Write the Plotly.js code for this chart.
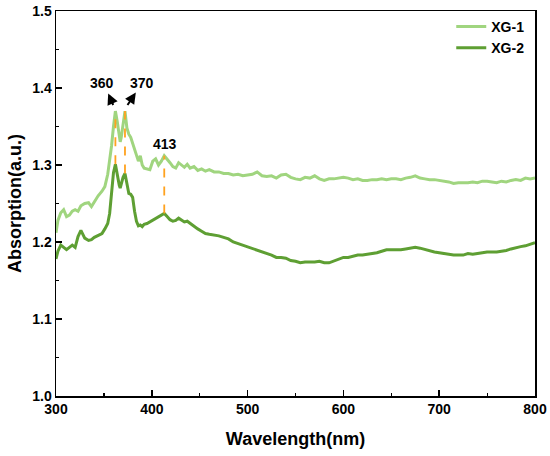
<!DOCTYPE html>
<html>
<head>
<meta charset="utf-8">
<script src="https://cdn.plot.ly/plotly-3.0.1.min.js"></script>
<style>html,body{margin:0;padding:0;background:#fff;}#chart{width:550px;height:456px;}</style>
</head>
<body>
<div id="chart"></div>
<script>
const wavelength = [
  300, 302, 305, 308, 311, 314, 317, 320, 323, 326,
  330, 334, 337, 340, 344, 348, 351, 354, 356, 358,
  360, 362, 364, 366, 367, 368, 370, 372, 374, 376,
  378, 380, 382, 384, 386, 388, 390, 392, 395, 398,
  401, 404, 407, 410, 413, 416, 419, 422, 425, 428,
  431, 434, 437, 440, 444, 448, 452, 456, 460, 465,
  470, 475, 480, 485, 490, 495, 500, 505, 510, 515,
  520, 525, 530, 535, 540, 545, 550, 555, 560, 565,
  570, 575, 580, 585, 590, 595, 600, 605, 610, 615,
  620, 625, 630, 635, 640, 645, 650, 655, 660, 665,
  670, 675, 680, 685, 690, 695, 700, 705, 710, 715,
  720, 725, 730, 735, 740, 745, 750, 755, 760, 765,
  770, 775, 780, 785, 790, 795, 800
];
const xg1 = [
  1.212, 1.228, 1.238, 1.242, 1.233, 1.235, 1.240, 1.242, 1.240, 1.247,
  1.250, 1.251, 1.246, 1.252, 1.260, 1.266, 1.272, 1.288, 1.305, 1.325,
  1.350, 1.370, 1.356, 1.336, 1.330, 1.335, 1.356, 1.370, 1.348, 1.340,
  1.336, 1.328, 1.318, 1.310, 1.305, 1.312, 1.300, 1.296, 1.295, 1.294,
  1.305, 1.308, 1.300, 1.305, 1.312, 1.308, 1.303, 1.298, 1.296, 1.303,
  1.300, 1.297, 1.301, 1.296, 1.298, 1.293, 1.295, 1.292, 1.294, 1.291,
  1.291, 1.289, 1.289, 1.287, 1.288, 1.286, 1.287, 1.288, 1.291, 1.286,
  1.285, 1.286, 1.283, 1.287, 1.288, 1.284, 1.282, 1.281, 1.284, 1.283,
  1.286, 1.282, 1.280, 1.282, 1.282, 1.283, 1.284, 1.283, 1.281, 1.282,
  1.280, 1.280, 1.281, 1.281, 1.282, 1.281, 1.282, 1.282, 1.281, 1.283,
  1.284, 1.286, 1.283, 1.282, 1.281, 1.281, 1.280, 1.279, 1.278, 1.276,
  1.277, 1.277, 1.277, 1.278, 1.277, 1.279, 1.279, 1.278, 1.277, 1.279,
  1.278, 1.280, 1.281, 1.280, 1.283, 1.282, 1.283
];
const xg2 = [
  1.178, 1.188, 1.196, 1.193, 1.190, 1.193, 1.196, 1.193, 1.207, 1.215,
  1.205, 1.202, 1.203, 1.206, 1.208, 1.211, 1.217, 1.224, 1.237, 1.260,
  1.290, 1.301, 1.286, 1.274, 1.270, 1.276, 1.284, 1.289, 1.276, 1.263,
  1.262, 1.258, 1.240, 1.227, 1.221, 1.222, 1.220, 1.223, 1.224, 1.226,
  1.229, 1.231, 1.233, 1.235, 1.237, 1.233, 1.229, 1.227, 1.228, 1.231,
  1.229, 1.226, 1.227, 1.224, 1.220, 1.217, 1.214, 1.211, 1.210, 1.209,
  1.208, 1.206, 1.204, 1.200, 1.198, 1.195, 1.194, 1.192, 1.190, 1.187,
  1.185, 1.183, 1.180, 1.180, 1.179, 1.176, 1.175, 1.173, 1.174, 1.174,
  1.174, 1.175, 1.173, 1.173, 1.175, 1.178, 1.180, 1.180, 1.182, 1.183,
  1.183, 1.184, 1.185, 1.186, 1.188, 1.190, 1.190, 1.190, 1.190, 1.191,
  1.192, 1.193, 1.192, 1.190, 1.189, 1.187, 1.186, 1.185, 1.184, 1.183,
  1.183, 1.183, 1.185, 1.184, 1.185, 1.186, 1.187, 1.187, 1.187, 1.188,
  1.189, 1.191, 1.193, 1.194, 1.195, 1.197, 1.199
];
const seriesNames = ['XG-1', 'XG-2'];
const peakX = [362, 372, 413];
const peakLabels = ['360', '370', '413'];
const xTicks = [300, 400, 500, 600, 700, 800];
const yTicks = [1.0, 1.1, 1.2, 1.3, 1.4, 1.5];

const FONT = 'Liberation Sans, Arial, sans-serif';
const colors = ['#A0D57F', '#5E9F33'];

const traces = [
  {x: wavelength, y: xg1, name: seriesNames[0], type: 'scatter', mode: 'lines',
   line: {color: colors[0], width: 3}},
  {x: wavelength, y: xg2, name: seriesNames[1], type: 'scatter', mode: 'lines',
   line: {color: colors[1], width: 3}}
];

const shapes = peakX.map(px => {
  const i = wavelength.indexOf(px);
  return {type: 'line', xref: 'x', yref: 'y', x0: px, x1: px, y0: xg2[i], y1: xg1[i],
          line: {color: '#FFA21F', width: 1.8, dash: 'dash'}};
});

const labelFont = {family: FONT, size: 14, color: '#000', weight: 'bold'};
const ann = [];
const i0 = wavelength.indexOf(peakX[0]);
const i1 = wavelength.indexOf(peakX[1]);
const i2 = wavelength.indexOf(peakX[2]);
ann.push({x: peakX[0] - 14, y: xg1[i0] + 0.036, xref: 'x', yref: 'y', text: peakLabels[0],
  showarrow: false, font: labelFont});
ann.push({x: peakX[1] + 17.5, y: xg1[i1] + 0.036, xref: 'x', yref: 'y', text: peakLabels[1],
  showarrow: false, font: labelFont});
ann.push({x: peakX[2] + 0.5, y: xg1[i2] + 0.015, xref: 'x', yref: 'y', text: peakLabels[2],
  showarrow: false, font: labelFont});
ann.push({x: peakX[0] - 7.5, y: xg1[i0] + 0.023, ax: peakX[0] - 1.6, ay: xg1[i0] + 0.006,
  xref: 'x', yref: 'y', axref: 'x', ayref: 'y', text: '', showarrow: true,
  arrowhead: 2, arrowsize: 1.1, arrowwidth: 2, arrowcolor: '#000'});
ann.push({x: peakX[1] + 11.3, y: xg1[i1] + 0.024, ax: peakX[1] + 1.6, ay: xg1[i1] + 0.006,
  xref: 'x', yref: 'y', axref: 'x', ayref: 'y', text: '', showarrow: true,
  arrowhead: 2, arrowsize: 1.1, arrowwidth: 2, arrowcolor: '#000'});

const axisCommon = {
  showgrid: false, zeroline: false, showline: true, linecolor: '#000', linewidth: 1.5,
  mirror: true, ticks: 'inside', ticklen: 6, tickwidth: 1.5, tickcolor: '#000',
  tickfont: {family: FONT, size: 14, color: '#000', weight: 'bold'}
};

const layout = {
  width: 550, height: 456,
  margin: {l: 56, r: 15, t: 11, b: 60},
  paper_bgcolor: '#fff', plot_bgcolor: '#fff',
  showlegend: true,
  legend: {x: 0.988, xanchor: 'right', y: 1.0, yanchor: 'top', bgcolor: 'rgba(0,0,0,0)',
    font: {family: FONT, size: 14, color: '#000', weight: 'bold'}, tracegroupgap: 0,
    itemwidth: 30},
  xaxis: Object.assign({}, axisCommon, {
    range: [300, 800], tickvals: xTicks, ticktext: xTicks.map(String),
    minor: {dtick: 50, tick0: 300, ticks: 'inside', ticklen: 3, tickwidth: 1.2, tickcolor: '#000'},
    title: {text: 'Wavelength(nm)', font: {family: FONT, size: 18, color: '#000', weight: 'bold'}, standoff: 16}
  }),
  yaxis: Object.assign({}, axisCommon, {
    range: [1.0, 1.5], tickvals: yTicks, ticktext: yTicks.map(v => v.toFixed(1)),
    minor: {dtick: 0.05, tick0: 1.0, ticks: 'inside', ticklen: 3, tickwidth: 1.2, tickcolor: '#000'},
    title: {text: 'Absorption(a.u.)', font: {family: FONT, size: 18, color: '#000', weight: 'bold'}, standoff: 6}
  }),
  shapes: shapes,
  annotations: ann
};

Plotly.newPlot('chart', traces, layout, {displayModeBar: false, staticPlot: true});
</script>
</body>
</html>
